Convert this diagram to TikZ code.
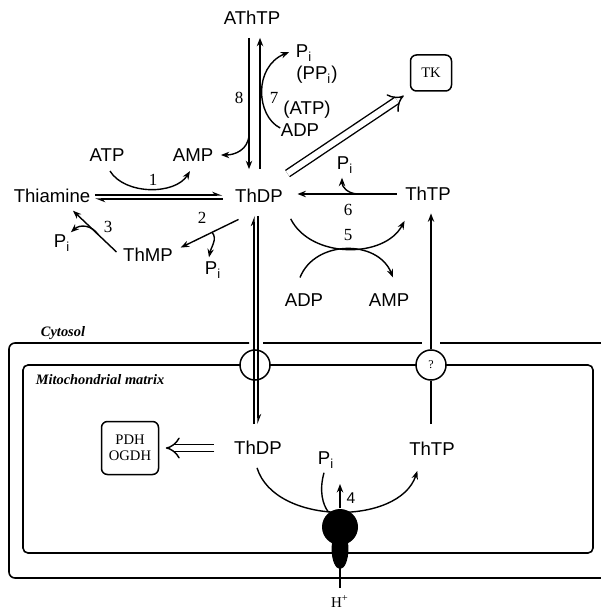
\documentclass[tikz,border=0pt]{standalone}
\usepackage{fontspec}
\setmainfont{Liberation Serif}
\setsansfont{Liberation Sans}
\usetikzlibrary{arrows.meta}
\newcommand{\Pin}{P\textsubscript{i}}

\begin{document}
\begin{tikzpicture}[
  x=0.5pt,y=-0.5pt,
  >={Stealth[length=4.2pt,width=3.2pt]},
  line width=0.7pt,
  met/.style={inner sep=0pt,font=\sffamily\fontsize{9.3}{11}\selectfont},
  num/.style={inner sep=0pt,font=\fontsize{8.5}{10}\selectfont},
  enz/.style={draw,rounded corners=3pt,line width=0.75pt,align=center,inner sep=1pt,font=\fontsize{7.3}{7.8}\selectfont},
  port/.style={circle,draw,fill=white,minimum size=15pt,inner sep=0pt,line width=0.75pt,font=\fontsize{6}{7}\selectfont},
  memb/.style={line width=0.8pt},
  hp/.style={-{Stealth[length=4.2pt,width=3.2pt,harpoon]}},
  dbl/.style={double,double distance=3pt,-{Implies}},
  comp/.style={inner sep=0pt,font=\bfseries\itshape\fontsize{7.2}{8}\selectfont}
]
\useasboundingbox (0,0) rectangle (600,613);
\node[met] (athtp) at (252,18) {AThTP};
\node[met] (thdpC) at (259,196) {ThDP};
\node[met] (thia) at (52,196) {Thiamine};
\node[met] (atp) at (107,155) {ATP};
\node[met] (amp1) at (193,155) {AMP};
\node[met] (thmp) at (148,255) {ThMP};
\node[met] (pi2) at (213,270) {\Pin};
\node[met] (pi3) at (62,243) {\Pin};
\node[met] (pi7) at (304,53) {\Pin};
\node[met] (pp7) at (317,75) {(PP\textsubscript{i})};
\node[met] (atp7) at (307,110) {(ATP)};
\node[met] (adp7) at (300,130) {ADP};
\node[met] (thtpC) at (428,194) {ThTP};
\node[met] (pi6) at (345,165) {\Pin};
\node[met] (adp5) at (304,300) {ADP};
\node[met] (amp5) at (389,300) {AMP};
\node[enz,minimum width=20.5pt,minimum height=18pt] (tk) at (431,73) {TK};
\node[num] (r1) at (153,180) {1};
\node[num] (r2) at (202,218) {2};
\node[num] (r3) at (108,227) {3};
\node[num] (r5) at (348,235) {5};
\node[num] (r6) at (348,210) {6};
\node[num] (r7) at (274,98) {7};
\node[num] (r8) at (239,98) {8};
\node[comp] (cyto) at (63,333) {Cytosol};
\node[comp] (matrix) at (100,380) {Mitochondrial matrix};
\draw[memb,rounded corners=3pt] (249,343) -- (9,343) -- (9,578) -- (610,578);
\draw[memb] (263,343) -- (422,343) (440,343) -- (610,343);
\draw[memb,rounded corners=2.5pt] (23,365) rectangle (593,553);
\node[port] (portA) at (255,365) {};
\node[port] (portQ) at (431,365) {?};
\node[met] (thdpM) at (258,448) {ThDP};
\node[met] (thtpM) at (432,449) {ThTP};
\node[met] (piM) at (326,460) {\Pin};
\node[enz,minimum width=28.5pt,minimum height=26.5pt] (pdh) at (130,448) {PDH\\OGDH};
\node[circle,fill,minimum size=18pt,inner sep=0pt] (bulb) at (340,527) {};
\fill (340,549) ellipse [x radius=4.2pt,y radius=10pt];
\node[inner sep=0pt,font=\fontsize{7.5}{8}\selectfont] (hplus) at (340,602) {H\textsuperscript{+}};
\node[met,font=\sffamily\fontsize{7.8}{9}\selectfont] (r4) at (351,498) {4};
\coordinate (out4) at (340,484);
\draw[hp] ([shift={(2pt,0.5pt)}]thia.east) -- ([shift={(-6pt,0.5pt)}]thdpC.west);
\draw[hp] ([shift={(-6pt,-1.5pt)}]thdpC.west) -- ([shift={(2pt,-1.5pt)}]thia.east);
\draw[->] ([shift={(1.5pt,-4.5pt)}]atp.south) .. controls +(15,24) and +(-15,24) .. ([shift={(-1.5pt,-4.5pt)}]amp1.south);
\draw[->] ([shift={(2pt,-8pt)}]thdpC.south west) -- coordinate[pos=0.46] (b2) ([shift={(3.6pt,0pt)}]thmp.north east);
\draw[->] (b2) .. controls +(6,6) and +(2,-10) .. ([shift={(-2pt,2pt)}]pi2.north);
\draw[->] ([shift={(-3pt,1.5pt)}]thmp.west) -- coordinate[pos=0.42] (b3) ([shift={(10.5pt,-3.6pt)}]thia.south);
\draw[->] (b3) .. controls +(-7,-10) and +(9,-8) .. ([yshift=1pt]pi3.north east);
\draw[->] ([shift={(-1.5pt,-6.2pt)}]athtp.south) -- coordinate[pos=0.74] (b8) ([shift={(-5pt,9.7pt)}]thdpC.north);
\draw[->] ([shift={(0.5pt,9.7pt)}]thdpC.north) -- ([shift={(4pt,-6.2pt)}]athtp.south);
\draw[->] (b8) .. controls +(-1,15) and +(14,0) .. ([xshift=3.5pt]amp1.east);
\draw[->] ([yshift=1pt]adp7.west) .. controls +(-24,-12) and +(-36,15) .. ([shift={(-3pt,0.5pt)}]pi7.west);
\draw[dbl] ([shift={(2pt,7.5pt)}]thdpC.north east) -- ([shift={(-3pt,-2pt)}]tk.south west);
\draw[->] ([xshift=-4pt]thtpC.west) -- coordinate[pos=0.4] (b6) ([shift={(7pt,1pt)}]thdpC.east);
\draw[->] (b6) .. controls +(-10,-1) and +(0,9) .. ([shift={(-1.5pt,-2pt)}]pi6.south);
\draw[->] ([shift={(3.6pt,-7.7pt)}]thdpC.south east) .. controls +(20,40) and +(-20,38) .. ([yshift=-9.7pt]thtpC.south west);
\draw[->] ([shift={(-2pt,7.7pt)}]adp5.north) .. controls +(15,-38) and +(-15,-38) .. ([shift={(2pt,7.7pt)}]amp5.north);
\draw[->] (portQ.north) -- ([shift={(1.5pt,-6pt)}]thtpC.south);
\draw ([shift={(-0.5pt,8.7pt)}]thtpM.north) -- (portQ.south);
\draw[hp] ([shift={(-2pt,8.2pt)}]thdpM.north) -- ([shift={(-2.5pt,-6.2pt)}]thdpC.south);
\draw[hp] ([shift={(-0.5pt,-6.2pt)}]thdpC.south) -- ([shift={(0pt,8.2pt)}]thdpM.north);
\draw[dbl] ([xshift=-9.6pt]thdpM.west) -- ([xshift=3.25pt]pdh.east);
\draw[->] ([shift={(-0.5pt,-6.2pt)}]thdpM.south) .. controls +(18,58) and +(-18,55) .. ([shift={(4.4pt,-7.2pt)}]thtpM.south west);
\draw ([shift={(-1pt,-2pt)}]piM.south) .. controls +(-5,18) and +(-6,-8) .. (bulb.128);
\draw[->] (bulb.north) -- (out4);
\draw (bulb.center) -- ([yshift=3.5pt]hplus.north);
\end{tikzpicture}
\end{document}
